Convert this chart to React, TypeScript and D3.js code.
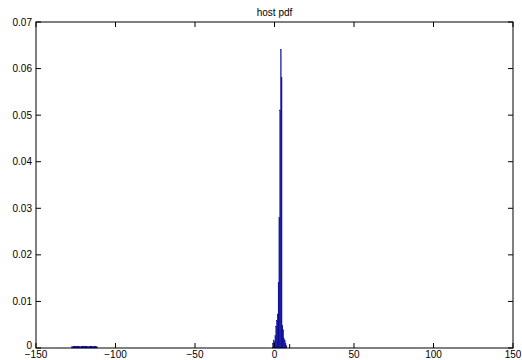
import React, { useEffect, useRef } from 'react';
import * as d3 from 'd3';

// main peak histogram bins (centre, density)
const binWidth = 0.5;
const binCenters = [
  -1.0, -0.5, 0.0, 0.5, 1.0, 1.5, 2.0, 2.5, 3.0, 3.5, 4.0, 4.5, 5.0, 5.5, 6.0, 6.5, 7.0, 7.5, 9.5,
];
const binValues = [
  0.0008, 0.0016, 0.0012, 0.0026, 0.0045, 0.0058, 0.0072, 0.014, 0.028, 0.051, 0.064, 0.058, 0.0048, 0.0038, 0.0019, 0.0015, 0.0008, 0.0004, 0.0007,
];
// far left tail, almost flat on the axis
const tailWidth = 1;
const tailCenters = [-127, -126, -125, -124, -123, -122, -121, -120, -119, -118, -117, -116, -115, -114, -113, -112];
const tailValues = [0.0002, 0.0003, 0.0002, 0.0003, 0.0002, 0.0002, 0.0003, 0.0002, 0.0003, 0.0002, 0.0002, 0.0003, 0.0002, 0.0002, 0.0003, 0.0002];

const xTicks = [-150, -100, -50, 0, 50, 100, 150];
const yTicks = [0, 0.01, 0.02, 0.03, 0.04, 0.05, 0.06, 0.07];
const title = 'host pdf';

const App = () => {
  const svgRef = useRef(null);

  useEffect(() => {
    const width = 522;
    const height = 360;
    const margin = { top: 22, right: 9, bottom: 12, left: 36 };
    const font = 'Liberation Sans, Arial, Helvetica, sans-serif';

    const svg = d3.select(svgRef.current);
    svg.selectAll('*').remove();
    svg.attr('width', width).attr('height', height);

    const x = d3.scaleLinear().domain([-150, 150]).range([margin.left, width - margin.right]);
    const y = d3.scaleLinear().domain([0, 0.07]).range([height - margin.bottom, margin.top]);

    const data = [
      ...tailCenters.map((c, i) => ({ c, v: tailValues[i], w: tailWidth })),
      ...binCenters.map((c, i) => ({ c, v: binValues[i], w: binWidth })),
    ];

    svg.append('g')
      .selectAll('rect')
      .data(data)
      .join('rect')
      .attr('x', d => x(d.c - d.w / 2))
      .attr('width', d => Math.max(0.6, x(d.c + d.w / 2) - x(d.c - d.w / 2)))
      .attr('y', d => y(d.v) - 0.5)
      .attr('height', d => y(0) - y(d.v) + 0.5)
      .attr('fill', '#0000a0')
      .attr('stroke', '#00008a')
      .attr('stroke-width', 0.3);

    const x0 = x(-150), x1 = x(150), y0 = y(0), y1 = y(0.07);
    const tl = 5;
    const axis = svg.append('g').attr('stroke', '#000').attr('stroke-width', 1);

    axis.append('rect')
      .attr('x', x0).attr('y', y1)
      .attr('width', x1 - x0).attr('height', y0 - y1)
      .attr('fill', 'none');

    xTicks.forEach(t => {
      axis.append('line').attr('x1', x(t)).attr('x2', x(t)).attr('y1', y0).attr('y2', y0 - tl);
      axis.append('line').attr('x1', x(t)).attr('x2', x(t)).attr('y1', y1).attr('y2', y1 + tl);
    });
    yTicks.forEach(t => {
      axis.append('line').attr('x1', x0).attr('x2', x0 + tl).attr('y1', y(t)).attr('y2', y(t));
      axis.append('line').attr('x1', x1).attr('x2', x1 - tl).attr('y1', y(t)).attr('y2', y(t));
    });

    svg.append('g')
      .selectAll('text')
      .data(xTicks)
      .join('text')
      .attr('x', d => x(d))
      .attr('y', y0 + 10)
      .attr('text-anchor', 'middle')
      .attr('font-family', font)
      .attr('font-size', 10)
      .text(d => (d < 0 ? '\u2212' + Math.abs(d) : String(d)));

    svg.append('g')
      .selectAll('text')
      .data(yTicks)
      .join('text')
      .attr('x', x0 - 4)
      .attr('y', d => (d === 0 ? y(d) + 0.5 : y(d) + 3.5))
      .attr('text-anchor', 'end')
      .attr('font-family', font)
      .attr('font-size', 10)
      .text(d => (d === 0 ? '0' : d.toFixed(2)));

    svg.append('text')
      .attr('x', (x0 + x1) / 2)
      .attr('y', y1 - 6)
      .attr('text-anchor', 'middle')
      .attr('font-family', font)
      .attr('font-size', 10)
      .text(title);
  }, []);

  return <svg ref={svgRef} style={{ position: 'absolute', left: 0, top: 0, background: '#fff' }}></svg>;
};

export default App;
